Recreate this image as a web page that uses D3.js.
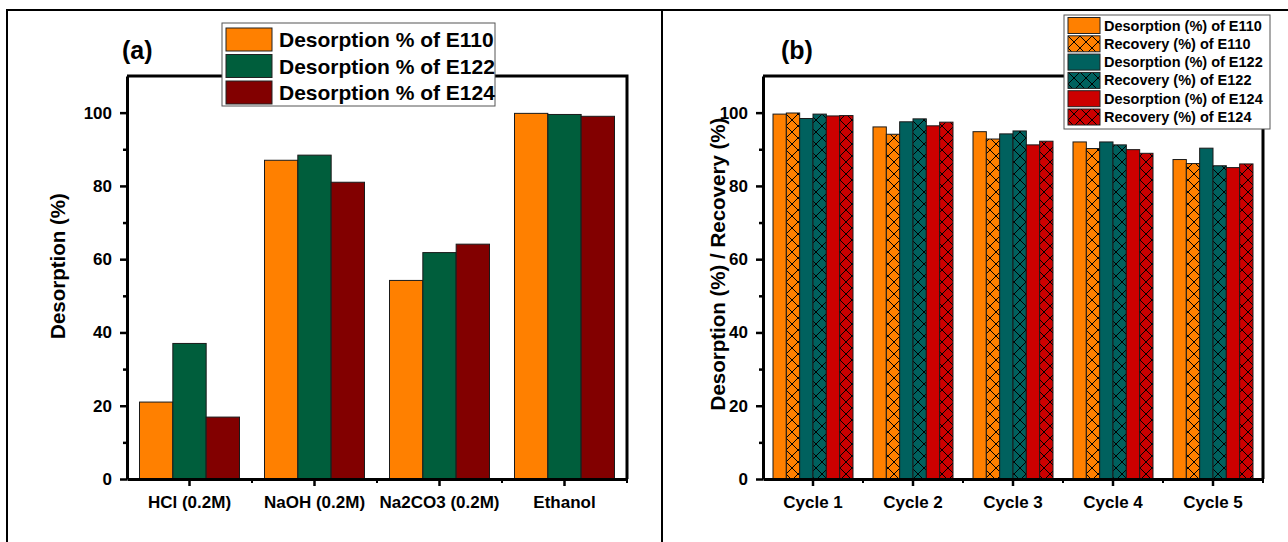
<!DOCTYPE html>
<html>
<head>
<meta charset="utf-8">
<script src="https://cdn.jsdelivr.net/npm/d3@7"></script>
<style>
  html, body { margin: 0; padding: 0; background: #fff; }
  svg { display: block; font-family: "Liberation Sans", Arial, sans-serif; font-weight: bold; }
</style>
</head>
<body>
<svg id="chart" width="1288" height="542"></svg>
<script>
// Panel (a): desorption by eluent
const eluents = ["HCl (0.2M)", "NaOH (0.2M)", "Na2CO3 (0.2M)", "Ethanol"];
const eluentSeries = ["Desorption % of E110", "Desorption % of E122", "Desorption % of E124"];
const eluentE110 = [21.0, 87.0, 54.2, 99.8];
const eluentE122 = [37.0, 88.4, 61.8, 99.5];
const eluentE124 = [16.9, 81.0, 64.1, 99.0];
const eluentColors = ["#FF8000", "#005E3C", "#820000"];

// Panel (b): desorption / recovery over reuse cycles
const cycles = ["Cycle 1", "Cycle 2", "Cycle 3", "Cycle 4", "Cycle 5"];
const cycleSeries = [
  "Desorption (%) of E110", "Recovery (%) of E110",
  "Desorption (%) of E122", "Recovery (%) of E122",
  "Desorption (%) of E124", "Recovery (%) of E124"
];
const desE110 = [99.6, 96.1, 94.8, 92.0, 87.2];
const recE110 = [99.9, 94.1, 92.8, 90.2, 86.1];
const desE122 = [98.4, 97.5, 94.2, 92.0, 90.3];
const recE122 = [99.6, 98.3, 95.0, 91.2, 85.5];
const desE124 = [99.1, 96.4, 91.2, 89.9, 85.0];
const recE124 = [99.2, 97.4, 92.2, 88.9, 86.0];
const cycleColors = ["#FF8000", "#FF8000", "#00615E", "#00615E", "#CC0000", "#CC0000"];
const cycleHatched = [false, true, false, true, false, true];

const yTicks = [0, 20, 40, 60, 80, 100];
const yMinorTicks = [10, 30, 50, 70, 90];
const yMax = 110;

const svg = d3.select("#chart");
svg.append("rect").attr("width", 1288).attr("height", 542).attr("fill", "#fff");

// cross-hatch fills
const defs = svg.append("defs");
["#FF8000", "#00615E", "#CC0000"].forEach((c, i) => {
  const p = defs.append("pattern")
    .attr("id", "hatch" + i)
    .attr("patternUnits", "userSpaceOnUse")
    .attr("width", 12).attr("height", 12);
  p.append("rect").attr("width", 12).attr("height", 12).attr("fill", c);
  p.append("path").attr("d", "M0,0L12,12M12,0L0,12M-1,1L1,-1M11,13L13,11")
    .attr("stroke", "#000").attr("stroke-width", 1).attr("fill", "none");
});
const hatchFor = c => "url(#hatch" + ["#FF8000", "#00615E", "#CC0000"].indexOf(c) + ")";

// outer frame lines
svg.append("path").attr("d", "M7,542V10H1288").attr("fill", "none").attr("stroke", "#000").attr("stroke-width", 2);
svg.append("line").attr("x1", 662).attr("x2", 662).attr("y1", 10).attr("y2", 542)
  .attr("stroke", "#000").attr("stroke-width", 2);

function drawPanel(opt) {
  const { left, right, top, bottom } = opt;
  const g = svg.append("g");
  const x = d3.scaleBand().domain(opt.categories).range([left, right]).paddingInner(0.2).paddingOuter(0.1);
  const y = d3.scaleLinear().domain([0, yMax]).range([bottom, top]);
  const xs = d3.scaleBand().domain(d3.range(opt.series.length)).range([0, x.bandwidth()]);

  // bars
  opt.series.forEach((vals, si) => {
    g.append("g").selectAll("rect").data(vals).join("rect")
      .attr("x", (d, i) => x(opt.categories[i]) + xs(si))
      .attr("y", d => y(d))
      .attr("width", xs.bandwidth())
      .attr("height", d => y(0) - y(d))
      .attr("fill", opt.fills[si])
      .attr("stroke", "#1a1a1a").attr("stroke-width", 1);
  });

  // frame (top / right)
  g.append("path").attr("d", `M${left},${top}H${right}V${bottom}`)
    .attr("fill", "none").attr("stroke", "#000").attr("stroke-width", 3);

  // y axis
  const ya = g.append("g").attr("transform", `translate(${left},0)`)
    .call(d3.axisLeft(y).tickValues(yTicks).tickSize(7).tickSizeOuter(0).tickPadding(8));
  g.append("g").attr("transform", `translate(${left},0)`)
    .call(d3.axisLeft(y).tickValues(yMinorTicks).tickSize(4).tickFormat(""))
    .call(a => a.select(".domain").remove());
  // x axis
  const xa = g.append("g").attr("transform", `translate(0,${bottom})`)
    .call(d3.axisBottom(x).tickSize(7).tickSizeOuter(0).tickPadding(10));
  const bounds = opt.categories.slice(1).map(c => x(c) - x.step() * x.paddingInner() / 2);
  bounds.push(right);
  g.append("g").attr("transform", `translate(0,${bottom})`).selectAll("line").data(bounds).join("line")
    .attr("x1", d => d).attr("x2", d => d).attr("y1", 0).attr("y2", 4)
    .attr("stroke", "#000").attr("stroke-width", 2);

  g.selectAll(".tick line").attr("stroke-width", 2.5);
  [ya, xa].forEach(a => {
    a.select(".domain").attr("stroke-width", 3);
    a.selectAll("text").attr("font-size", 17).attr("font-weight", "bold")
      .attr("font-family", "'Liberation Sans', Arial, sans-serif").attr("fill", "#000");
  });

  // axis title
  g.append("text")
    .attr("transform", `translate(${opt.titleX},${opt.titleY}) rotate(-90)`)
    .attr("text-anchor", "middle").attr("dominant-baseline", "central")
    .attr("font-size", 20.5).text(opt.yTitle);

  // panel tag
  g.append("text").attr("x", opt.tagX).attr("y", 59).attr("font-size", 25).text(opt.tag);

  // legend
  const L = opt.legend;
  const lg = g.append("g");
  lg.append("rect").attr("x", L.x).attr("y", L.y).attr("width", L.w).attr("height", L.h)
    .attr("fill", "#fff").attr("stroke", "#555").attr("stroke-width", 1);
  opt.names.forEach((n, i) => {
    const ry = L.y + L.pad + i * L.pitch;
    lg.append("rect").attr("x", L.x + 4).attr("y", ry).attr("width", L.sw).attr("height", L.sh)
      .attr("fill", opt.fills[i]).attr("stroke", "#222").attr("stroke-width", 1);
    lg.append("text").attr("x", L.x + L.tx).attr("y", ry + L.sh / 2)
      .attr("dominant-baseline", "central").attr("font-size", L.fs).text(n);
  });
}

drawPanel({
  left: 127, right: 627, top: 76, bottom: 479,
  categories: eluents,
  series: [eluentE110, eluentE122, eluentE124],
  fills: eluentColors,
  names: eluentSeries,
  yTitle: "Desorption (%)", titleX: 57, titleY: 266,
  tag: "(a)", tagX: 122,
  legend: { x: 222, y: 23, w: 273, h: 83, pad: 5, pitch: 26.5, sw: 46, sh: 23, tx: 57, fs: 21 }
});

drawPanel({
  left: 763, right: 1263, top: 76, bottom: 479,
  categories: cycles,
  series: [desE110, recE110, desE122, recE122, desE124, recE124],
  fills: cycleColors.map((c, i) => cycleHatched[i] ? hatchFor(c) : c),
  names: cycleSeries,
  yTitle: "Desorption (%) / Recovery (%)", titleX: 717, titleY: 264,
  tag: "(b)", tagX: 781,
  legend: { x: 1064, y: 15, w: 206, h: 114, pad: 2.5, pitch: 18.3, sw: 32, sh: 16, tx: 40, fs: 14.5 }
});
</script>
</body>
</html>
